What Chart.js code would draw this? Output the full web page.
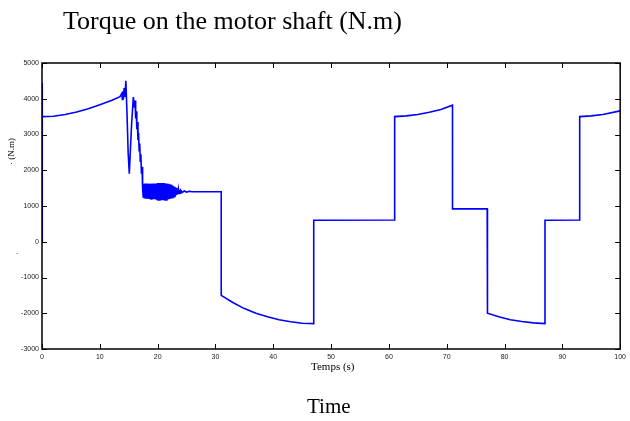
<!DOCTYPE html>
<html lang="en">
<head>
    <meta charset="UTF-8">
    <title>Torque on the motor shaft</title>
    <script src="https://cdn.jsdelivr.net/npm/chart.js"></script>
    <style>
        body { margin: 0; background: #fff; }
        .wrap { position: relative; width: 630px; height: 421px; }
        canvas { position: absolute; left: 0; top: 0; }
        .txt { position: absolute; font-family: "Liberation Serif", "Times New Roman", serif; color: #000; white-space: nowrap; line-height: 1; }
        #title { left: 63px; top: 8px; font-size: 26px; }
        #time { left: 307px; top: 396px; font-size: 21px; }
        #tlabel { left: 311px; top: 361px; font-size: 11px; }
        #ylabel { left: -2px; top: 147px; font-size: 9px; transform: rotate(-90deg); }
        #ydot { left: 16px; top: 247px; font-size: 9px; }
    </style>
</head>
<body>
<div class="wrap">
    <canvas id="chart" width="630" height="421"></canvas>
    <div class="txt" id="title">Torque on the motor shaft (N.m)</div>
    <div class="txt" id="tlabel">Temps (s)</div>
    <div class="txt" id="ylabel">· (N.m)</div>
    <div class="txt" id="ydot">.</div>
    <div class="txt" id="time">Time</div>
</div>
<script>
    // time (s) and torque (N.m)
    const timeS = [
        0, 0, 0.1, 2, 4, 6, 8, 10, 12, 13.5,
        13.8, 13.9, 14.0, 14.1, 14.2, 14.35, 14.5, 14.7, 14.9, 15.1,
        15.3, 15.5, 15.8, 16.0, 16.1, 16.2, 16.3, 16.4, 16.5, 16.6,
        16.7, 16.8, 16.9, 17.0, 17.1, 17.2, 17.3, 17.4,
        17.5, 17.6, 17.7, 17.8, 17.9, 18.0, 18.1, 18.2, 18.3, 18.4,
        18.5, 18.6, 18.7, 18.8, 18.9, 19.0, 19.1, 19.2, 19.3, 19.4,
        19.5, 19.6, 19.7, 19.8, 19.9, 20.0, 20.1, 20.2, 20.3, 20.4,
        20.5, 20.6, 20.7, 20.8, 20.9, 21.0, 21.1, 21.2, 21.3, 21.4,
        21.5, 21.6, 21.7, 21.8, 21.9, 22.0, 22.1, 22.2, 22.3, 22.4,
        22.5, 22.6, 22.7, 22.8, 22.9, 23.0, 23.1, 23.2, 23.3, 23.4,
        23.5, 23.6, 23.7, 23.8, 23.9, 24.0, 24.3, 24.6, 25.0, 25.5,
        26, 27, 31, 31, 33, 35, 37, 39, 41, 43,
        45, 47, 47, 61, 61, 63, 65, 67, 69, 71,
        71, 77, 77, 77.1, 79, 81, 83, 85, 87, 87,
        93, 93, 95, 97, 100
    ];
    const torqueNm = [
        0, 4450, 3500, 3510, 3560, 3630, 3720, 3830, 3950, 4060,
        4150, 3980, 4200, 4000, 4300, 4050, 4500, 3600, 2500, 1900,
        2600, 3300, 4050, 3750, 3950, 3450, 3650, 3150, 3350, 2850,
        3050, 2550, 2750, 2250, 2450, 1900, 2100, 1500,
        1250, 1620, 1230, 1630, 1210, 1630, 1200, 1630, 1210, 1620,
        1200, 1620, 1210, 1630, 1200, 1620, 1200, 1630, 1190, 1620,
        1190, 1630, 1180, 1630, 1180, 1640, 1170, 1640, 1170, 1640,
        1170, 1640, 1160, 1640, 1160, 1640, 1160, 1640, 1170, 1630,
        1170, 1630, 1180, 1620, 1190, 1610, 1200, 1600, 1210, 1590,
        1230, 1570, 1250, 1550, 1270, 1530, 1290, 1510, 1310, 1490,
        1330, 1470, 1350, 1450, 1360, 1440, 1380, 1420, 1390, 1410,
        1400, 1400, 1400, -1500, -1700, -1870, -2000, -2100, -2180, -2240,
        -2280, -2290, 600, 610, 3500, 3520, 3560, 3620, 3700, 3820,
        920, 920, -1500, -2000, -2100, -2180, -2230, -2270, -2290, 600,
        610, 3500, 3520, 3560, 3660
    ];
    const xTicks = [0, 10, 20, 30, 40, 50, 60, 70, 80, 90, 100];
    const yTicks = [-3000, -2000, -1000, 0, 1000, 2000, 3000, 4000, 5000];

    const points = timeS.map((t, i) => ({ x: t, y: torqueNm[i] }));

    // box frame with inward tick marks on all four sides
    const boxTicks = {
        id: 'boxTicks',
        afterDraw(chart) {
            const c = chart.ctx, a = chart.chartArea;
            const sx = chart.scales.x, sy = chart.scales.y;
            c.save();
            c.strokeStyle = '#000';
            c.lineWidth = 1.5;
            c.strokeRect(a.left, a.top, a.right - a.left, a.bottom - a.top);
            c.lineWidth = 1;
            c.beginPath();
            xTicks.forEach(v => {
                const px = Math.round(sx.getPixelForValue(v)) + 0.5;
                c.moveTo(px, a.bottom); c.lineTo(px, a.bottom - 5);
                c.moveTo(px, a.top); c.lineTo(px, a.top + 5);
            });
            yTicks.forEach(v => {
                const py = Math.round(sy.getPixelForValue(v)) + 0.5;
                c.moveTo(a.left, py); c.lineTo(a.left + 5, py);
                c.moveTo(a.right, py); c.lineTo(a.right - 5, py);
            });
            c.stroke();
            c.restore();
        }
    };

    const tickFont = { family: '"Liberation Sans", Arial, sans-serif', size: 7 };

    new Chart(document.getElementById('chart').getContext('2d'), {
        type: 'line',
        data: {
            datasets: [{
                data: points,
                borderColor: '#0000ff',
                borderWidth: 1.6,
                pointRadius: 0,
                tension: 0,
                fill: false
            }]
        },
        options: {
            responsive: false,
            animation: false,
            layout: { padding: { top: 63, right: 6, left: 0, bottom: 0 } },
            plugins: { legend: { display: false }, tooltip: { enabled: false } },
            scales: {
                x: {
                    type: 'linear', min: 0, max: 100,
                    afterBuildTicks: s => { s.ticks = xTicks.map(v => ({ value: v })); },
                    afterFit: s => { s.height = 72; },
                    grid: { display: false, drawTicks: false },
                    border: { display: false },
                    ticks: { font: tickFont, color: '#222', padding: 4, maxRotation: 0, callback: v => String(v) }
                },
                y: {
                    min: -3000, max: 5000,
                    afterBuildTicks: s => { s.ticks = yTicks.map(v => ({ value: v })); },
                    afterFit: s => { s.width = 42; },
                    grid: { display: false, drawTicks: false },
                    border: { display: false },
                    ticks: { font: tickFont, color: '#222', padding: 3, callback: v => String(v) }
                }
            }
        },
        plugins: [boxTicks]
    });
</script>
</body>
</html>
